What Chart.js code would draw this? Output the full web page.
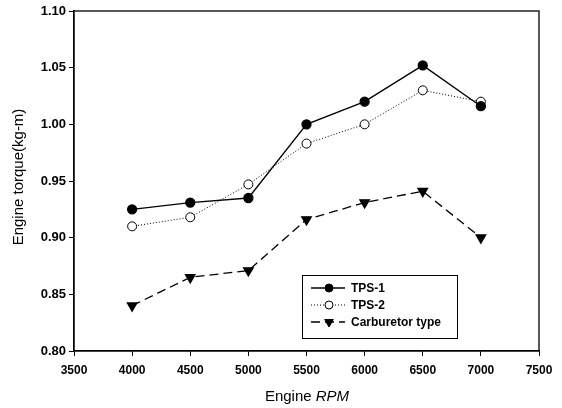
<!DOCTYPE html>
<html>
<head>
<meta charset="utf-8">
<script src="https://cdn.jsdelivr.net/npm/chart.js@4/dist/chart.umd.min.js"></script>
<style>
  html, body { margin: 0; padding: 0; background: #fff; }
  #wrap { width: 562px; height: 408px; }
</style>
</head>
<body>
<div id="wrap"><canvas id="torque"></canvas></div>
<script>
var rpm = [4000, 4500, 5000, 5500, 6000, 6500, 7000];
var tps1 = [0.925, 0.931, 0.935, 1.000, 1.020, 1.052, 1.016];
var tps2 = [0.910, 0.918, 0.947, 0.983, 1.000, 1.030, 1.020];
var carb = [0.840, 0.865, 0.871, 0.916, 0.931, 0.941, 0.900];
var seriesNames = ["TPS-1", "TPS-2", "Carburetor type"];

function pts(ys) {
  return rpm.map(function (x, i) { return { x: x, y: ys[i] }; });
}

var font = "Liberation Sans, Arial, sans-serif";

// frame, axis titles and the boxed legend
var extras = {
  id: "extras",
  afterDraw: function (chart) {
    var c = chart.ctx, a = chart.chartArea;
    c.save();
    c.strokeStyle = "#000";
    c.lineWidth = 1.3;
    c.strokeRect(a.left, a.top, a.right - a.left, a.bottom - a.top);

    c.fillStyle = "#000";
    c.font = "15px " + font;
    c.textBaseline = "middle";
    var w1 = c.measureText("Engine ").width;
    c.font = "italic 15px " + font;
    var w2 = c.measureText("RPM").width;
    var x0 = 307 - (w1 + w2) / 2;
    c.font = "15px " + font;
    c.textAlign = "left";
    c.fillText("Engine ", x0, 397);
    c.font = "italic 15px " + font;
    c.fillText("RPM", x0 + w1, 397);

    c.save();
    c.translate(19, 177);
    c.rotate(-Math.PI / 2);
    c.textAlign = "center";
    c.font = "15px " + font;
    c.fillText("Engine torque(kg-m)", 0, 0);
    c.restore();

    // legend
    c.lineWidth = 1;
    c.strokeRect(302.5, 275.5, 155, 63);
    var rows = [288, 305, 322];
    chart.data.datasets.forEach(function (ds, i) {
      var y = rows[i];
      c.beginPath();
      c.setLineDash(ds.borderDash || []);
      c.lineWidth = ds.borderWidth;
      c.strokeStyle = "#000";
      c.moveTo(311, y);
      c.lineTo(345, y);
      c.stroke();
      c.setLineDash([]);
      c.fillStyle = ds.pointBackgroundColor;
      c.strokeStyle = "#000";
      c.lineWidth = 1;
      Chart.helpers.drawPoint(c, {
        pointStyle: ds.pointStyle,
        rotation: ds.pointRotation || 0,
        radius: ds.pointRadius - 0.5,
        borderWidth: 1
      }, 329, y);
      c.fillStyle = "#000";
      c.font = "bold 12px " + font;
      c.textAlign = "left";
      c.fillText(seriesNames[i], 351, y + 1);
    });
    c.restore();
  }
};

new Chart(document.getElementById("torque"), {
  type: "line",
  data: {
    datasets: [
      {
        label: seriesNames[0],
        data: pts(tps1),
        borderColor: "#000",
        borderWidth: 1.3,
        pointStyle: "circle",
        pointRadius: 4.5,
        pointBackgroundColor: "#000",
        pointBorderColor: "#000"
      },
      {
        label: seriesNames[1],
        data: pts(tps2),
        borderColor: "#000",
        borderWidth: 1,
        borderDash: [1, 2],
        pointStyle: "circle",
        pointRadius: 4.5,
        pointBackgroundColor: "#fff",
        pointBorderColor: "#000"
      },
      {
        label: seriesNames[2],
        data: pts(carb),
        borderColor: "#000",
        borderWidth: 1.3,
        borderDash: [9, 5],
        pointStyle: "triangle",
        pointRotation: 180,
        pointRadius: 5.5,
        pointBackgroundColor: "#000",
        pointBorderColor: "#000"
      }
    ]
  },
  options: {
    responsive: true,
    maintainAspectRatio: false,
    animation: false,
    layout: { padding: { top: 11, right: 23, left: 0, bottom: 0 } },
    plugins: { legend: { display: false }, tooltip: { enabled: false } },
    scales: {
      x: {
        type: "linear",
        min: 3500,
        max: 7500,
        afterFit: function (s) { s.height = 57; },
        ticks: {
          stepSize: 500,
          color: "#000",
          font: { family: font, size: 12, weight: "bold" },
          padding: 7,
          maxRotation: 0,
          callback: function (v) { return String(v); }
        },
        grid: { drawOnChartArea: false, tickLength: 5, color: "#000", tickColor: "#000" },
        border: { color: "#000", width: 1.3 }
      },
      y: {
        min: 0.8,
        max: 1.1,
        afterFit: function (s) { s.width = 74; },
        ticks: {
          stepSize: 0.05,
          color: "#000",
          font: { family: font, size: 13, weight: "bold" },
          padding: 3,
          callback: function (v) { return v.toFixed(2); }
        },
        grid: { drawOnChartArea: false, tickLength: 5, color: "#000", tickColor: "#000" },
        border: { color: "#000", width: 1.3 }
      }
    }
  },
  plugins: [extras]
});
</script>
</body>
</html>
